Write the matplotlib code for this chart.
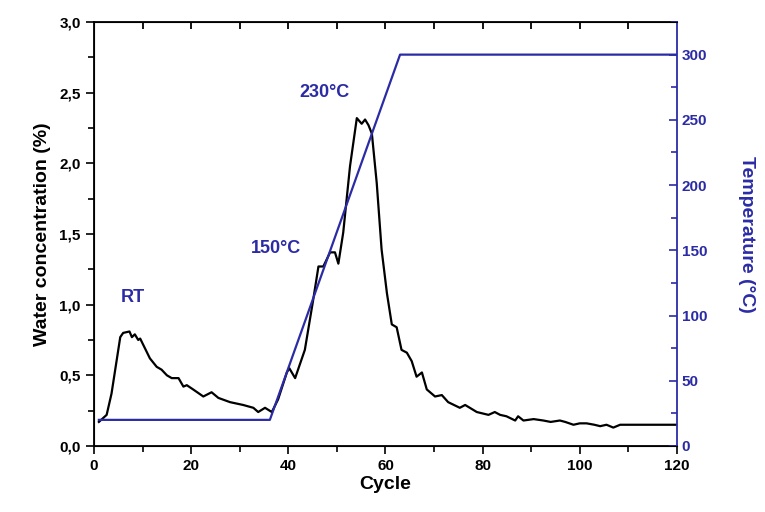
import matplotlib
matplotlib.use("Agg")
import matplotlib.pyplot as plt
from matplotlib.ticker import MultipleLocator, FuncFormatter

plt.rcParams['font.family'] = ['Liberation Sans', 'DejaVu Sans']
plt.rcParams['font.weight'] = 'bold'

cycle = [1.0, 2.6, 3.6, 5.4, 6.0, 7.3, 7.8, 8.4, 9.1, 9.5, 10.5, 11.5, 12.9, 13.9, 15.0,
         16.0, 17.4, 18.4, 19.1, 20.4, 22.5, 24.2, 25.6, 28.0, 30.7, 32.8, 33.8, 35.2,
         36.6, 37.9, 39.7, 40.2, 41.4, 43.4, 45.1, 46.2, 47.2, 48.6, 49.6, 50.3, 51.3,
         52.7, 54.1, 55.1, 55.8, 56.5, 57.2, 58.2, 59.2, 60.3, 61.3, 62.3, 63.3, 64.4,
         65.4, 66.4, 67.5, 68.5, 70.2, 71.6, 72.9, 75.3, 76.4, 78.8, 81.2, 82.5, 83.6,
         84.9, 86.7, 87.3, 88.4, 90.5, 92.5, 94.0, 95.9, 97.0, 98.7, 100.0, 101.4, 103.0,
         104.2, 105.5, 106.9, 108.3, 120.0]
water = [0.17, 0.22, 0.37, 0.77, 0.80, 0.81, 0.77, 0.79, 0.75, 0.76, 0.69, 0.62, 0.56, 0.54,
         0.50, 0.48, 0.48, 0.42, 0.43, 0.40, 0.35, 0.38, 0.34, 0.31, 0.29, 0.27, 0.24, 0.27,
         0.24, 0.33, 0.52, 0.55, 0.48, 0.68, 1.03, 1.27, 1.27, 1.37, 1.37, 1.29, 1.51, 1.98,
         2.32, 2.28, 2.31, 2.27, 2.21, 1.86, 1.39, 1.08, 0.86, 0.84, 0.68, 0.66, 0.60, 0.49,
         0.52, 0.40, 0.35, 0.36, 0.31, 0.27, 0.29, 0.24, 0.22, 0.24, 0.22, 0.21, 0.18, 0.21,
         0.18, 0.19, 0.18, 0.17, 0.18, 0.17, 0.15, 0.16, 0.16, 0.15, 0.14, 0.15, 0.13, 0.15,
         0.15]

temp_cycle = [1, 36.2, 63.0, 120]
temperature = [20, 20, 300, 300]

top_tick_cycles = [10, 20, 30, 40, 50, 60, 70, 80, 90, 100, 110]

annotations = [("RT", 5.5, 1.05), ("150°C", 32.2, 1.40), ("230°C", 42.3, 2.50)]

blue = '#2b2ba6'

fig = plt.figure(figsize=(7.65, 5.12), dpi=100)
ax = fig.add_axes([0.1229, 0.129, 0.762, 0.828])
ax2 = ax.twinx()

ax.plot(cycle, water, color='black', lw=1.6, zorder=3)
ax2.plot(temp_cycle, temperature, color=blue, lw=1.6)

ax.set_xlim(0, 120)
ax.set_ylim(0, 3.0)
ax2.set_ylim(0, 325)

ax.xaxis.set_major_locator(MultipleLocator(20))
ax.xaxis.set_minor_locator(MultipleLocator(10))
ax.yaxis.set_major_locator(MultipleLocator(0.5))
ax.yaxis.set_minor_locator(MultipleLocator(0.25))
ax.yaxis.set_major_formatter(FuncFormatter(lambda v, p: f"{v:.1f}".replace('.', ',')))
ax2.yaxis.set_major_locator(MultipleLocator(50))
ax2.yaxis.set_minor_locator(MultipleLocator(25))

ax.tick_params(axis='x', which='both', direction='out', labelsize=11)
ax.tick_params(axis='x', which='major', length=6, width=1.2)
ax.tick_params(axis='x', which='minor', length=4, width=1.2)
ax.tick_params(axis='y', which='major', direction='out', length=6, width=1.2, labelsize=11)
ax.tick_params(axis='y', which='minor', direction='out', length=4, width=1.2)
ax2.tick_params(axis='y', which='major', direction='in', length=6, width=1.2,
                colors=blue, labelsize=11)
ax2.tick_params(axis='y', which='minor', direction='in', length=4, width=1.2, colors=blue)

# inward ticks along the top edge, every 10 cycles (as in the original plot)
ax.vlines(top_tick_cycles, 0.984, 1.0, transform=ax.get_xaxis_transform(),
          colors='black', linewidth=1.3, zorder=6, clip_on=False)

for lbl in ax.get_xticklabels() + ax.get_yticklabels() + ax2.get_yticklabels():
    lbl.set_fontweight('bold')

for s in ['left', 'bottom', 'top']:
    ax.spines[s].set_linewidth(1.3)
ax2.spines['right'].set_color(blue)
ax2.spines['right'].set_linewidth(1.3)
ax.spines['right'].set_visible(False)

ax.set_xlabel("Cycle", fontsize=14, fontweight='bold', labelpad=2)
ax.set_ylabel("Water concentration (%)", fontsize=14, fontweight='bold', labelpad=6)
ax2.set_ylabel("Temperature (°C)", fontsize=14, fontweight='bold', color=blue,
               rotation=270, labelpad=34)

for txt, xx, yy in annotations:
    ax.text(xx, yy, txt, color=blue, fontsize=13, fontweight='bold', va='center', ha='left')

ax.set_xlim(0, 120)
fig.savefig("out.png", dpi=100)
